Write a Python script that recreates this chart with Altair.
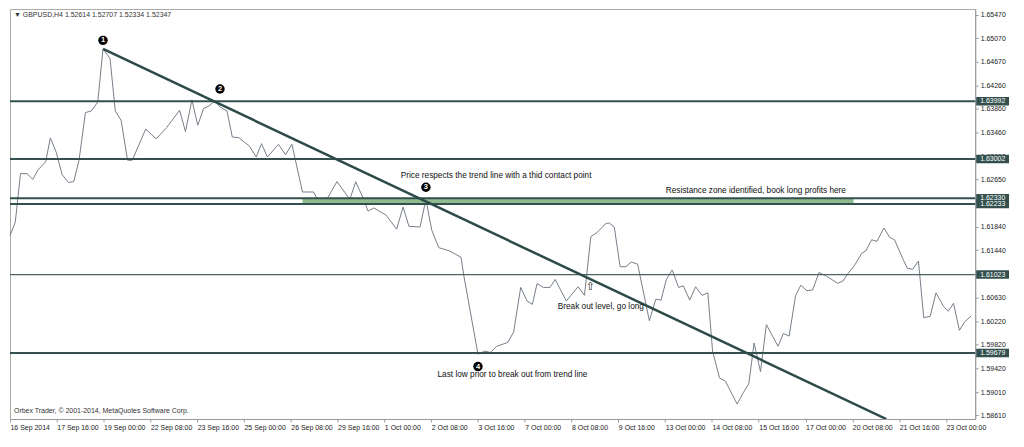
import json
import altair as alt
import pandas as pd

# ---------------- data ----------------
bar = [0, 0.9, 1.8, 2.9, 3.9, 4.8, 6.1, 6.9, 7.9, 8.9, 10.0, 10.9, 11.8, 12.9, 13.9, 15.0,
       15.9, 17.1, 18.0, 19.0, 20.1, 20.9, 23.2, 25.0, 26.8, 29.0, 30.0, 31.1, 32.1, 33.1,
       34.0, 35.0, 35.9, 37.1, 38.0, 39.1, 40.9, 42.1, 43.0, 44.0, 45.9, 47.1, 48.2, 50.0,
       51.9, 53.0, 54.0, 55.9, 58.1, 59.1, 60.4, 61.2, 62.2, 64.3, 66.1, 67.2, 68.2, 70.1,
       71.1, 72.1, 73.3, 75.1, 77.1, 77.6, 80.0, 81.2, 82.1, 83.2, 85.1, 86.1, 87.3, 88.4,
       89.3, 90.1, 91.2, 92.3, 93.2, 95.1, 97.1, 98.2, 99.3, 100.4, 101.8, 102.4, 103.3,
       104.3, 105.3, 106.2, 107.3, 109.3, 110.4, 111.3, 112.2, 113.2, 114.3, 115.1, 116.2,
       117.2, 118.3, 119.3, 120.1, 121.3, 122.3, 124.3, 125.4, 126.3, 127.2, 128.3, 129.3,
       131.3, 132.2, 133.2, 134.3, 135.2, 136.2, 137.2, 138.3, 139.6, 141.5, 142.4, 143.3,
       144.4, 145.6, 146.3, 147.3, 148.2, 149.4, 150.4, 151.2, 152.8, 153.4, 154.3, 155.3,
       156.2, 157.3, 158.3, 159.6, 160.4, 161.3, 162.3, 163.2, 164.3]
close = [1.61690, 1.61919, 1.62752, 1.62752, 1.62654, 1.62817, 1.62955, 1.63363, 1.63118,
         1.62736, 1.62600, 1.62616, 1.62981, 1.63797, 1.63825, 1.63977, 1.64887, 1.64724,
         1.63825, 1.63662, 1.62981, 1.62981, 1.63515, 1.63347, 1.63543, 1.63837, 1.63471,
         1.64016, 1.63580, 1.63869, 1.63907, 1.64000, 1.63891, 1.63825, 1.63379, 1.63368,
         1.63226, 1.63036, 1.63265, 1.63036, 1.63253, 1.63074, 1.63253, 1.62437, 1.62437,
         1.62229, 1.62285, 1.62616, 1.62311, 1.62612, 1.62327, 1.62110, 1.62164, 1.62040,
         1.61800, 1.62180, 1.61849, 1.61838, 1.62311, 1.61783, 1.61484, 1.61429, 1.61321,
         1.60994, 1.59660, 1.59714, 1.59688, 1.59795, 1.59861, 1.60041, 1.60803, 1.60570,
         1.60514, 1.60869, 1.60803, 1.60803, 1.60939, 1.60570, 1.60815, 1.60668, 1.61674,
         1.61746, 1.61893, 1.61909, 1.61837, 1.61158, 1.61158, 1.61239, 1.61200, 1.60232,
         1.60602, 1.60586, 1.60939, 1.61102, 1.60803, 1.60831, 1.60586, 1.60815, 1.60668,
         1.60710, 1.59714, 1.59252, 1.59198, 1.58806, 1.59007, 1.59154, 1.59851, 1.59361,
         1.60166, 1.59795, 1.60014, 1.59970, 1.60668, 1.60841, 1.60749, 1.60759, 1.61060,
         1.60994, 1.60874, 1.60913, 1.61048, 1.61184, 1.61387, 1.61429, 1.61620, 1.61592,
         1.61821, 1.61658, 1.61620, 1.61256, 1.61130, 1.61114, 1.61256, 1.60286, 1.60308,
         1.60710, 1.60477, 1.60395, 1.60531, 1.60068, 1.60215, 1.60313]

levels_thick = [1.63992, 1.63002, 1.62330, 1.62233, 1.59679]
levels_thin = [1.61023]
level_labels = [1.63992, 1.63002, 1.62330, 1.62233, 1.61023, 1.59679]

zone_bar = [50.0, 144.2]
zone_price = [1.62330, 1.62233]

trend_bar = [15.9, 149.8]
trend_price = [1.64887, 1.58550]

marker_num = ["1", "2", "3", "4"]
marker_bar = [15.9, 35.9, 71.1, 80.0]
marker_price = [1.65034, 1.64201, 1.62518, 1.59448]

note_text = ["Price respects the trend line with a thid contact point",
             "Resistance zone identified, book long profits here",
             "Break out level, go long",
             "Last low prior to break out from trend line"]
note_bar = [83.1, 127.5, 101.0, 85.9]
note_price = [1.62714, 1.62448, 1.60460, 1.59296]

arrow_bar = [99.2]
arrow_price = [1.60803]

y_ticks = [1.65470, 1.65070, 1.64670, 1.64260, 1.63860, 1.63460, 1.63050, 1.62650,
           1.62250, 1.61840, 1.61440, 1.61030, 1.60630, 1.60220, 1.59820, 1.59420,
           1.59010, 1.58610]
x_tick_labels = ["16 Sep 2014", "17 Sep 16:00", "19 Sep 00:00", "22 Sep 08:00",
                 "23 Sep 16:00", "25 Sep 00:00", "26 Sep 08:00", "29 Sep 16:00",
                 "1 Oct 00:00", "2 Oct 08:00", "3 Oct 16:00", "7 Oct 00:00",
                 "8 Oct 08:00", "9 Oct 16:00", "13 Oct 00:00", "14 Oct 08:00",
                 "15 Oct 16:00", "17 Oct 00:00", "20 Oct 08:00", "21 Oct 16:00",
                 "23 Oct 00:00"]
x_tick_values = [8 * i for i in range(len(x_tick_labels))]

header = "\u25BC GBPUSD,H4  1.52614 1.52707 1.52334 1.52347"
footer = "Orbex Trader, \u00A9 2001-2014, MetaQuotes Software Corp."

# ---------------- chart ----------------
W, H = 970, 412
FONT = "Liberation Sans"
DARK = "#33504e"

xs = alt.Scale(domain=[0, 165], nice=False, zero=False)
ys = alt.Scale(domain=[1.5855, 1.6557], nice=False, zero=False)

label_expr = json.dumps(x_tick_labels) + "[round(datum.value / 8)]"
x_axis = alt.Axis(values=x_tick_values, tickCount=len(x_tick_values) + 2,
                  labelExpr=label_expr, title=None, grid=False,
                  labelAlign="left", labelPadding=2, tickSize=3, labelFontSize=7,
                  labelFont=FONT, labelColor="#222", domainColor="#9a9a9a",
                  tickColor="#9a9a9a", labelOverlap=False, labelFlush=False)
y_axis = alt.Axis(values=y_ticks, tickCount=len(y_ticks) + 2, format=".5f", orient="right",
                  title=None, grid=False,
                  tickSize=3, labelPadding=2, labelFontSize=7, labelFont=FONT,
                  labelColor="#222", domainColor="#9a9a9a", tickColor="#9a9a9a",
                  labelOverlap=False, labelFlush=False)


def X(f="bar"):
    return alt.X(f"{f}:Q", scale=xs, title=None)


def Y(f="price"):
    return alt.Y(f"{f}:Q", scale=ys, title=None)


price_df = pd.DataFrame({"bar": bar, "price": close})
price_line = alt.Chart(price_df).mark_line(color="#767e88", strokeWidth=1).encode(
    x=alt.X("bar:Q", scale=xs, axis=x_axis), y=alt.Y("price:Q", scale=ys, axis=y_axis))

zone_df = pd.DataFrame({"bar": [zone_bar[0]], "bar2": [zone_bar[1]],
                        "price": [zone_price[0]], "price2": [zone_price[1]]})
zone = alt.Chart(zone_df).mark_rect(color="#8fbc8f").encode(
    x=X(), x2="bar2:Q", y=Y(), y2="price2:Q")

thick = alt.Chart(pd.DataFrame({"price": levels_thick})).mark_rule(
    color=DARK, strokeWidth=2).encode(y=Y())
thin = alt.Chart(pd.DataFrame({"price": levels_thin})).mark_rule(
    color="#4d6361", strokeWidth=1.2).encode(y=Y())

trend = alt.Chart(pd.DataFrame({"bar": trend_bar, "price": trend_price})).mark_line(
    color="#2c4a48", strokeWidth=2.5, clip=True).encode(x=X(), y=Y())

mk_df = pd.DataFrame({"bar": marker_bar, "price": marker_price, "n": marker_num})
mk_circle = alt.Chart(mk_df).mark_point(shape="circle", filled=True, size=90,
                                         color="#000", opacity=1).encode(x=X(), y=Y())
mk_text = alt.Chart(mk_df).mark_text(color="white", fontSize=7.5, fontWeight="bold",
                                      font=FONT, baseline="middle").encode(
    x=X(), y=Y(), text="n:N")

notes = alt.Chart(pd.DataFrame({"bar": note_bar, "price": note_price, "t": note_text})).mark_text(
    fontSize=8.3, font=FONT, color="#111", baseline="middle").encode(x=X(), y=Y(), text="t:N")

arrow = alt.Chart(pd.DataFrame({"bar": arrow_bar, "price": arrow_price, "t": ["\u21E7"]})).mark_text(
    fontSize=11, font="DejaVu Sans", color="#222", baseline="middle").encode(x=X(), y=Y(), text="t:N")

lab_df = pd.DataFrame({"price": level_labels})
lab_box = alt.Chart(lab_df).mark_rule(color=DARK, strokeWidth=8.5, clip=False).encode(
    x=alt.value(W + 1), x2=alt.value(W + 34), y=Y())
lab_txt = alt.Chart(lab_df).mark_text(color="white", fontSize=7, font=FONT, align="left",
                                       baseline="middle", clip=False).encode(
    x=alt.value(W + 5), y=Y(), text=alt.Text("price:Q", format=".5f"))

head = alt.Chart(pd.DataFrame({"t": [header]})).mark_text(
    fontSize=7, font=FONT, color="#333", align="left", baseline="middle").encode(
    x=alt.value(4), y=alt.value(6), text="t:N")
foot = alt.Chart(pd.DataFrame({"t": [footer]})).mark_text(
    fontSize=7, font=FONT, color="#333", align="left", baseline="middle").encode(
    x=alt.value(4), y=alt.value(H - 8), text="t:N")

chart = alt.layer(price_line, zone, thick, thin, trend, mk_circle, mk_text, notes, arrow,
                  lab_box, lab_txt, head, foot).properties(
    width=W, height=H, padding={"left": 0, "top": 0, "right": 2, "bottom": 0},
    background="white"
).configure_view(stroke="#a8a8a8", strokeWidth=1
).configure_axis(labelOverlap=False, labelFlush=False)

chart.save("out.html", embed_options={"renderer": "svg", "actions": False})
